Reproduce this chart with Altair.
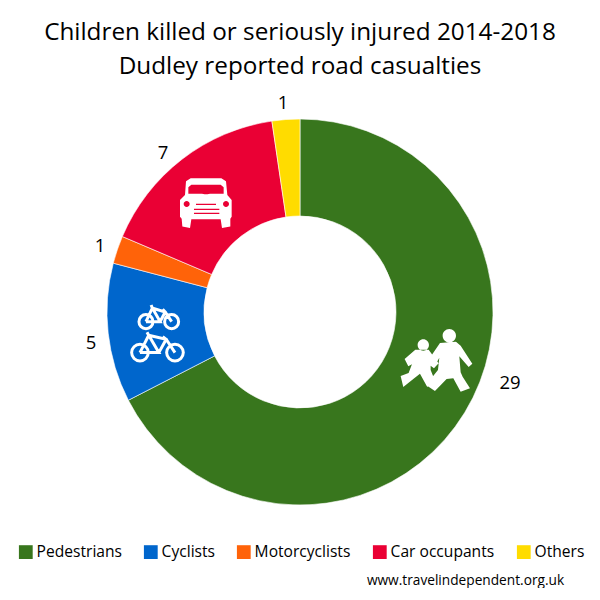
import altair as alt
import pandas as pd

categories = ["Pedestrians", "Cyclists", "Motorcyclists", "Car occupants", "Others"]
values = [29, 5, 1, 7, 1]
colours = ["#38761D", "#0066CC", "#FF6309", "#EA0034", "#FFDC00"]
title_lines = ["Children killed or seriously injured 2014-2018", "Dudley reported road casualties"]
source_text = "www.travelindependent.org.uk"

FONT = "Open Sans"
W, H = 584, 500
TOP = 84            # page y of the plot area's top edge
LEFT = 8
CX, CY = 300 - LEFT, 312 - TOP


def px(x, y):
    return x - LEFT, y - TOP


def norm(cx, cy, half):
    def f(x, y):
        return f"{(x - cx) / half:.3f} {(y - cy) / half:.3f}"
    return f


def poly(pts, f):
    return "M" + " L".join(f(*p) for p in pts) + " Z"


def circle(x, y, r, f, half):
    rr = r / half
    a = f(x - r, y)
    b = f(x + r, y)
    return f"M{a} A{rr:.3f} {rr:.3f} 0 1 0 {b} A{rr:.3f} {rr:.3f} 0 1 0 {a} Z"


# --- car (designed on the 3x crop grid) ---
fc = norm(258, 100, 78)
car_body = poly([(212, 25), (304, 25), (318, 34), (322, 75), (335, 90), (335, 140), (331, 146),
                 (331, 170), (306, 174), (302, 148), (214, 148), (210, 174), (187, 170),
                 (185, 146), (180, 140), (180, 90), (195, 75), (198, 34)], fc)
car_holes = " ".join([
    poly([(214, 44), (302, 44), (311, 52), (311, 71), (270, 71), (262, 73), (254, 73), (246, 71),
          (205, 71), (205, 52)], fc),
    circle(200, 102, 9, fc, 78), circle(318, 102, 9, fc, 78),
    poly([(228, 101), (288, 101), (288, 105), (228, 105)], fc),
    poly([(222, 116), (298, 116), (298, 120), (222, 120)], fc),
    poly([(222, 128), (298, 128), (298, 132), (222, 132)], fc),
])

# --- children ---
fk = norm(139, 135, 106)
children = " ".join([
    circle(178, 62, 20, fk, 106),
    poly([(150, 84), (198, 80), (212, 92), (247, 146), (236, 156), (208, 124), (212, 172),
          (218, 185), (240, 220), (212, 230), (190, 190), (170, 192), (135, 228), (108, 210),
          (144, 165), (148, 128), (138, 146), (124, 122)], fk),
    circle(100, 90, 17, fk, 106),
    poly([(76, 104), (116, 104), (146, 145), (132, 160), (122, 152), (122, 165), (132, 190), (112, 216),
          (90, 176), (70, 192), (40, 216), (32, 183), (56, 174), (66, 148), (55, 154), (44, 132)], fk),
])

# --- bicycles (outline only) ---
fb = norm(112, 490, 90)


def bike(lx, rx, wy, r, top):
    span = rx - lx
    return " ".join([
        circle(lx, wy, r, fb, 90), circle(rx, wy, r, fb, 90),
        "M" + " L".join(fb(*p) for p in [
            (lx, wy), (lx + span * .25, top + 4), (rx - span * .25, top + 16), (rx, wy)]),
        "M" + " L".join(fb(*p) for p in [
            (lx, wy), ((lx + rx) / 2 + 4, wy), (lx + span * .25, top + 4), (lx + span * .2, top - 5)]),
        "M" + " L".join(fb(*p) for p in [
            ((lx + rx) / 2 + 4, wy), (rx - span * .25, top + 16), (rx - span * .35, top + 8)]),
    ])


bikes = bike(78, 155, 455, 21, 410) + " " + bike(60, 165, 548, 25, 492)

df = pd.DataFrame({"category": categories, "value": values, "rank": list(range(len(values)))})

donut = alt.Chart(df).mark_arc(radius=193, radius2=96, stroke="white", strokeWidth=0.6).encode(
    x=alt.value(CX), y=alt.value(CY),
    theta=alt.Theta("value:Q", stack=True),
    order=alt.Order("rank:Q"),
    color=alt.Color(
        "category:N",
        sort=categories,
        scale=alt.Scale(domain=categories, range=colours),
        legend=alt.Legend(
            title=None, orient="none", direction="horizontal", columns=5,
            legendX=18 - LEFT, legendY=544 - TOP,
            symbolType="square", symbolSize=190, symbolStrokeWidth=0, symbolOpacity=1,
            labelFont=FONT, labelFontSize=15.6, labelColor="#000000", labelLimit=200,
            columnPadding=21, labelOffset=3,
        ),
    ),
)

label_pos = [(510, 383), (91, 343), (100, 246), (163, 153), (283, 103)]
layers = [donut]
for v, (x, y) in zip(values, label_pos):
    lx, ly = px(x, y)
    layers.append(
        alt.Chart(pd.DataFrame({"t": [str(v)]})).mark_text(
            font=FONT, fontSize=18.5, color="#000000", align="center", baseline="middle"
        ).encode(text="t:N", x=alt.value(lx), y=alt.value(ly))
    )


def icon(path, x, y, width, colour=None, stroke=None, sw=0):
    ix, iy = px(x, y)
    kw = dict(shape=path, size=width * width, opacity=1)
    if colour:
        kw.update(filled=True, fill=colour, strokeWidth=0)
    else:
        kw.update(filled=False, stroke=stroke, strokeWidth=sw)
    return alt.Chart(pd.DataFrame({"i": [0]})).mark_point(**kw).encode(x=alt.value(ix), y=alt.value(iy))


layers += [
    icon(car_body, 206, 203.3, 52, "white"),
    icon(car_holes, 206, 203.3, 52, "#EA0034"),
    icon(children, 436.3, 360, 70.7, "white"),
    icon(bikes, 157.3, 333.3, 60, stroke="white", sw=3),
]

sx, sy = px(465.5, 581)
layers.append(
    alt.Chart(pd.DataFrame({"t": [source_text]})).mark_text(
        font=FONT, fontSize=13.7, color="#000000", align="center", baseline="middle"
    ).encode(text="t:N", x=alt.value(sx), y=alt.value(sy))
)

chart = alt.layer(*layers).properties(
    width=W, height=H,
    padding={"left": 0, "right": 0, "top": 12, "bottom": 0},
    title=alt.TitleParams(
        text=title_lines, font=FONT, fontSize=24.3, fontWeight="normal", color="#000000",
        anchor="middle", lineHeight=34, offset=5,
    ),
).configure_view(stroke=None)

chart.save("out.html", embed_options={"renderer": "svg", "actions": False})
